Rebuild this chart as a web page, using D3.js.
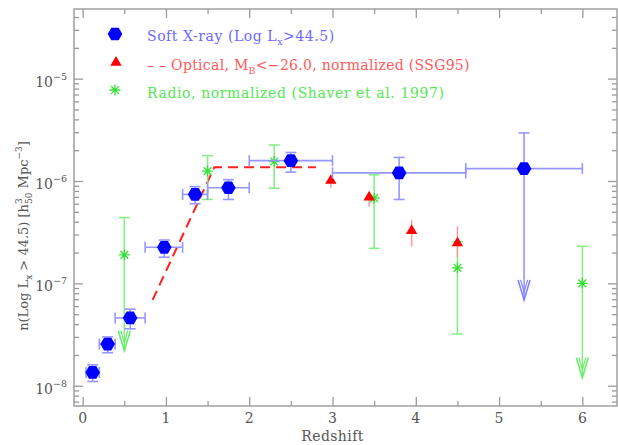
<!DOCTYPE html>
<html><head><meta charset="utf-8">
<script src="https://cdn.jsdelivr.net/npm/d3@7"></script>
<style>body{margin:0;background:#fff}svg{display:block}</style>
</head><body>
<script>
// ---- data ----
const xrayZ   = [0.12, 0.30, 0.57, 0.98, 1.35, 1.75, 2.50, 3.80, 5.30];
const xrayN   = [1.35e-8, 2.55e-8, 4.6e-8, 2.25e-7, 7.4e-7, 8.6e-7, 1.58e-6, 1.2e-6, 1.32e-6];
const xrayZlo = [0.04, 0.20, 0.39, 0.75, 1.20, 1.50, 2.00, 3.00, 4.60];
const xrayZhi = [0.20, 0.39, 0.75, 1.20, 1.50, 2.00, 3.00, 4.60, 6.00];
const xrayNlo = [1.1e-8, 2.1e-8, 3.6e-8, 1.8e-7, 6.0e-7, 6.6e-7, 1.22e-6, 6.6e-7, 6.9e-8];
const xrayNhi = [1.6e-8, 3.0e-8, 5.6e-8, 2.65e-7, 8.8e-7, 1.03e-6, 1.9e-6, 1.7e-6, 2.95e-6];
const xrayLimit = [false, false, false, false, false, false, false, false, true];

const optZ   = [2.98, 3.44, 3.95, 4.50];
const optN   = [1.02e-6, 7.0e-7, 3.3e-7, 2.5e-7];
const optNlo = [8.6e-7, 5.6e-7, 2.3e-7, 1.8e-7];
const optNhi = [1.12e-6, 7.85e-7, 4.2e-7, 3.6e-7];

const optLineZ = [0.84, 1.58, 2.80];
const optLineN = [6.9e-8, 1.36e-6, 1.36e-6];

const radZ   = [0.50, 1.50, 2.30, 3.50, 4.50, 6.00];
const radN   = [1.9e-7, 1.25e-6, 1.55e-6, 6.8e-7, 1.42e-7, 1.0e-7];
const radNlo = [2.2e-8, 6.6e-7, 8.5e-7, 2.2e-7, 3.2e-8, 1.2e-8];
const radNhi = [4.4e-7, 1.77e-6, 2.25e-6, 1.15e-6, 2.55e-7, 2.3e-7];
const radLimit = [true, false, false, false, false, true];

const xTicks = [0, 1, 2, 3, 4, 5, 6];
const yTickExp = [-8, -7, -6, -5];

// ---- layout ----
const W = 618, H = 445;
const L = 74, R = 617, T = 9, B = 406;
const svg = d3.select("body").append("svg").attr("width", W).attr("height", H);
const x = d3.scaleLinear().domain([-0.104, 6.416]).range([L, R]);
const y = d3.scaleLog().domain([6.34e-9, 4.79e-5]).range([B, T]);

const FONT = "DejaVu Serif";
const frameC = "#9a9a9a", labelC = "#555";
const blue = "#0000ff", blueE = "#9696ff", blueT = "#6a6aff";
const red = "#ff0000", redE = "#ff9a9a", redT = "#ff5a5a";
const green = "#33e033", greenE = "#80f080", greenT = "#55e655";

// frame
svg.append("rect").attr("x", L).attr("y", T).attr("width", R - L).attr("height", B - T)
  .attr("fill", "none").attr("stroke", frameC).attr("stroke-width", 1.4);

// x ticks (major + minor) bottom & top via d3 axes
const xMinor = d3.range(0, 6.5, 0.5).filter(v => !Number.isInteger(v));
function xAxisTicks(orient, yPos, vals, len) {
  const ax = (orient === "bottom" ? d3.axisTop(x) : d3.axisBottom(x))
    .tickValues(vals).tickSize(len).tickFormat("");
  const g = svg.append("g").attr("transform", `translate(0,${yPos})`).call(ax);
  g.select(".domain").remove();
  g.selectAll("line").attr("stroke", frameC).attr("stroke-width", 1.3);
}
xAxisTicks("bottom", B, xTicks, 9);
xAxisTicks("bottom", B, xMinor, 5);
xAxisTicks("top", T, xTicks, 9);
xAxisTicks("top", T, xMinor, 5);

// y ticks
const yMajor = yTickExp.map(e => Math.pow(10, e));
const yMinor = [];
for (let e = -9; e <= -5; e++) for (let m = 2; m <= 9; m++) {
  const v = m * Math.pow(10, e);
  if (v >= y.domain()[0] && v <= y.domain()[1]) yMinor.push(v);
}
function yAxisTicks(side, vals, len) {
  const ax = (side === "left" ? d3.axisRight(y) : d3.axisLeft(y))
    .tickValues(vals).tickSize(len).tickFormat("");
  const g = svg.append("g").attr("transform", `translate(${side === "left" ? L : R},0)`).call(ax);
  g.select(".domain").remove();
  g.selectAll("line").attr("stroke", frameC).attr("stroke-width", 1.3);
}
yAxisTicks("left", yMajor, 9);
yAxisTicks("left", yMinor, 5);
yAxisTicks("right", yMajor, 9);
yAxisTicks("right", yMinor, 5);

// x tick labels
svg.append("g").selectAll("text").data(xTicks).join("text")
  .attr("x", d => x(d)).attr("y", 423).attr("text-anchor", "middle")
  .attr("font-family", FONT).attr("font-size", 14).attr("fill", labelC).text(d => d);

// y tick labels
const yl = svg.append("g").selectAll("text").data(yTickExp).join("text")
  .attr("x", 67).attr("y", d => y(Math.pow(10, d)) + 8).attr("text-anchor", "end")
  .attr("font-family", FONT).attr("font-size", 14).attr("fill", labelC);
yl.append("tspan").text("10");
yl.append("tspan").attr("font-size", 9.5).attr("dy", -7).text(d => "\u2212" + Math.abs(d));

// axis titles
svg.append("text").attr("x", x(3)).attr("y", 441).attr("text-anchor", "middle")
  .attr("font-family", FONT).attr("font-size", 14).attr("fill", labelC).attr("letter-spacing", 0.4).text("Redshift");

const yt = svg.append("text").attr("transform", "translate(28,236) rotate(-90)")
  .attr("text-anchor", "middle").attr("font-family", FONT).attr("font-size", 13).attr("fill", labelC);
yt.append("tspan").text("n(Log L");
yt.append("tspan").attr("font-size", 9).attr("dy", 4).text("x");
yt.append("tspan").attr("dy", -4).text(" > 44.5) [h");
yt.append("tspan").attr("font-size", 9).attr("dy", -6).text("3");
yt.append("tspan").attr("font-size", 9).attr("dx", -5.7).attr("dy", 10).text("50");
yt.append("tspan").attr("dy", -4).text(" Mpc");
yt.append("tspan").attr("font-size", 9).attr("dy", -6).text("\u22123");
yt.append("tspan").attr("dy", 6).text("]");

// helpers
function arrowHead(g, cx, tipY, color) {
  g.append("path").attr("d", `M${cx - 6},${tipY - 20} L${cx},${tipY} L${cx + 6},${tipY - 20}`)
    .attr("fill", "none").attr("stroke", color).attr("stroke-width", 1.6);
  g.append("path").attr("d", `M${cx - 3.5},${tipY - 20} L${cx},${tipY - 8} L${cx + 3.5},${tipY - 20}`)
    .attr("fill", "none").attr("stroke", color).attr("stroke-width", 1.2);
}
function hexPath(cx, cy, r) {
  const pts = d3.range(6).map(i => [cx + r * Math.cos(i * Math.PI / 3), cy + r * Math.sin(i * Math.PI / 3)]);
  return "M" + pts.map(p => p.join(",")).join("L") + "Z";
}
function triPath(cx, cy, s) {
  return `M${cx},${cy - s} L${cx + s * 0.95},${cy + s * 0.62} L${cx - s * 0.95},${cy + s * 0.62}Z`;
}
function starPath(cx, cy, r) {
  let d = "";
  for (let i = 0; i < 4; i++) {
    const a = i * Math.PI / 4;
    d += `M${cx - r * Math.cos(a)},${cy - r * Math.sin(a)}L${cx + r * Math.cos(a)},${cy + r * Math.sin(a)}`;
  }
  return d;
}

// ---- optical dashed line ----
svg.append("path").datum(optLineZ.map((z, i) => [z, optLineN[i]]))
  .attr("d", d3.line().x(d => x(d[0])).y(d => y(d[1])))
  .attr("fill", "none").attr("stroke", "#ff2020").attr("stroke-width", 2).attr("stroke-dasharray", "10,6");

// ---- radio error bars ----
const gR = svg.append("g");
radZ.forEach((z, i) => {
  const cx = x(z), cap = 5.5;
  gR.append("line").attr("x1", cx).attr("x2", cx).attr("y1", y(radNhi[i])).attr("y2", y(radNlo[i]))
    .attr("stroke", greenE).attr("stroke-width", 1.5);
  gR.append("line").attr("x1", cx - cap).attr("x2", cx + cap).attr("y1", y(radNhi[i])).attr("y2", y(radNhi[i]))
    .attr("stroke", greenE).attr("stroke-width", 1.5);
  if (radLimit[i]) arrowHead(gR, cx, y(radNlo[i]), "#66ee66");
  else gR.append("line").attr("x1", cx - cap).attr("x2", cx + cap).attr("y1", y(radNlo[i])).attr("y2", y(radNlo[i]))
    .attr("stroke", greenE).attr("stroke-width", 1.5);
});

// ---- optical error bars + triangles ----
const gO = svg.append("g");
optZ.forEach((z, i) => {
  gO.append("line").attr("x1", x(z)).attr("x2", x(z)).attr("y1", y(optNhi[i])).attr("y2", y(optNlo[i]))
    .attr("stroke", redE).attr("stroke-width", 1.5);
});

// ---- x-ray error bars ----
const gX = svg.append("g");
xrayZ.forEach((z, i) => {
  const cx = x(z), cy = y(xrayN[i]), cap = 5.5;
  const x0 = x(xrayZlo[i]), x1 = x(xrayZhi[i]);
  gX.append("line").attr("x1", x0).attr("x2", x1).attr("y1", cy).attr("y2", cy).attr("stroke", blueE).attr("stroke-width", 1.6);
  gX.append("line").attr("x1", x0).attr("x2", x0).attr("y1", cy - cap).attr("y2", cy + cap).attr("stroke", blueE).attr("stroke-width", 1.6);
  gX.append("line").attr("x1", x1).attr("x2", x1).attr("y1", cy - cap).attr("y2", cy + cap).attr("stroke", blueE).attr("stroke-width", 1.6);
  gX.append("line").attr("x1", cx).attr("x2", cx).attr("y1", y(xrayNhi[i])).attr("y2", y(xrayNlo[i])).attr("stroke", blueE).attr("stroke-width", 1.6);
  gX.append("line").attr("x1", cx - cap).attr("x2", cx + cap).attr("y1", y(xrayNhi[i])).attr("y2", y(xrayNhi[i])).attr("stroke", blueE).attr("stroke-width", 1.6);
  if (xrayLimit[i]) arrowHead(gX, cx, y(xrayNlo[i]), "#8080ff");
  else gX.append("line").attr("x1", cx - cap).attr("x2", cx + cap).attr("y1", y(xrayNlo[i])).attr("y2", y(xrayNlo[i])).attr("stroke", blueE).attr("stroke-width", 1.6);
});

// markers
gO.selectAll("path.tri").data(optZ).join("path").attr("class", "tri")
  .attr("d", (z, i) => triPath(x(z), y(optN[i]), 6)).attr("fill", red);
gR.selectAll("path.star").data(radZ).join("path").attr("class", "star")
  .attr("d", (z, i) => starPath(x(z), y(radN[i]), 5.5)).attr("stroke", green).attr("stroke-width", 1.3).attr("fill", "none");
gX.selectAll("path.hex").data(xrayZ).join("path").attr("class", "hex")
  .attr("d", (z, i) => hexPath(x(z), y(xrayN[i]), 7.3)).attr("fill", blue);

// ---- legend ----
const leg = svg.append("g");
leg.append("path").attr("d", hexPath(115, 34, 7.3)).attr("fill", blue);
leg.append("path").attr("d", triPath(116, 62, 6)).attr("fill", red);
leg.append("path").attr("d", starPath(115, 90, 5.5)).attr("stroke", green).attr("stroke-width", 1.3).attr("fill", "none");

const t1 = leg.append("text").attr("x", 147).attr("y", 41).attr("font-family", FONT).attr("font-size", 14)
  .attr("letter-spacing", 0.55).attr("fill", blueT);
t1.append("tspan").text("Soft X-ray (Log L");
t1.append("tspan").attr("font-size", 9.5).attr("dy", 4).text("x");
t1.append("tspan").attr("dy", -4).text(">44.5)");

const t2 = leg.append("text").attr("x", 147).attr("y", 69.5).attr("font-family", FONT).attr("font-size", 14)
  .attr("letter-spacing", 0.3).attr("fill", redT);
t2.append("tspan").text("\u2013 \u2013 Optical, M");
t2.append("tspan").attr("font-size", 9.5).attr("dy", 4).text("B");
t2.append("tspan").attr("dy", -4).text("<\u221226.0, normalized (SSG95)");

leg.append("text").attr("x", 147).attr("y", 97.5).attr("font-family", FONT).attr("font-size", 14)
  .attr("letter-spacing", 0.6).attr("fill", greenT)
  .text("Radio, normalized (Shaver et al. 1997)");
</script>
</body></html>
